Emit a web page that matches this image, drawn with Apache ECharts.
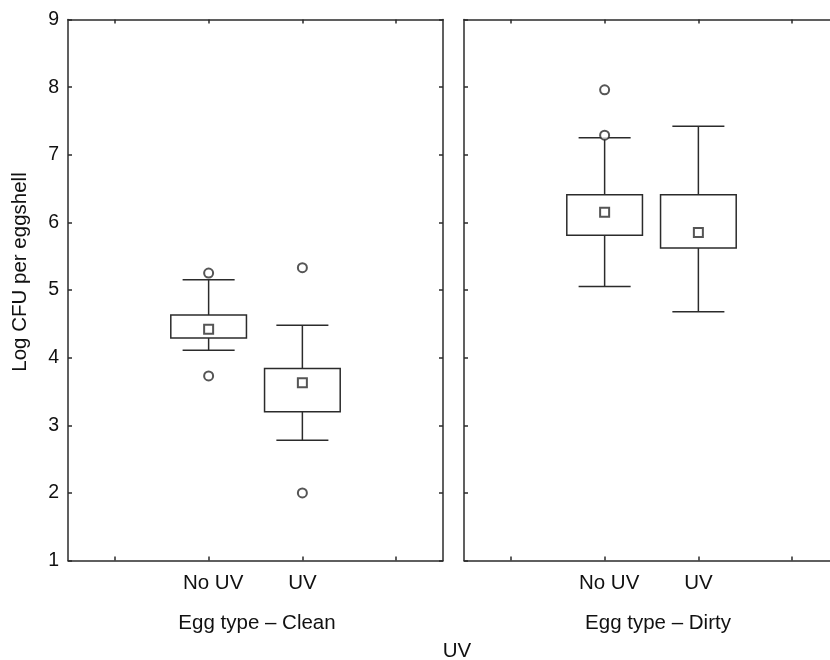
<!DOCTYPE html>
<html>
<head>
<meta charset="utf-8">
<script src="https://cdn.jsdelivr.net/npm/echarts@6/dist/echarts.min.js"></script>
<style>html,body{margin:0;padding:0;background:#fff;}#chart{width:830px;height:660px;}</style>
</head>
<body>
<div id="chart"></div>
<script>
// ---- data ----
var axisCategories = [' ', 'No UV', 'UV', '  '];
var groupNames = ['Egg type \u2013 Clean', 'Egg type \u2013 Dirty'];
var treatments = ['No UV', 'UV'];
var yTicks = [1, 2, 3, 4, 5, 6, 7, 8, 9];
// per group: [No UV, UV]
var whiskerLow  = [[4.11, 2.78], [5.05, 4.68]];
var boxLow      = [[4.29, 3.20], [5.81, 5.62]];
var meanValue   = [[4.42, 3.63], [6.15, 5.85]];
var boxHigh     = [[4.63, 3.84], [6.41, 6.41]];
var whiskerHigh = [[5.15, 4.48], [7.25, 7.42]];
var outlierTreatment = [['No UV', 'No UV', 'UV', 'UV'], ['No UV', 'No UV']];
var outlierValue     = [[5.25, 3.73, 5.33, 2.00], [7.96, 7.29]];

var LINE = '#2b2b2b';
var TEXT = '#111';
var FONT = "'Liberation Sans', Arial, Helvetica, sans-serif";

var grids = [
  {left: 68, top: 19.5, width: 375, height: 541, outerBoundsMode: 'none', containLabel: false},
  {left: 464, top: 19.5, width: 375, height: 541, outerBoundsMode: 'none', containLabel: false}
];
var xAxes = [], yAxes = [], series = [];
for (var g = 0; g < 2; g++) {
  // bottom
  xAxes.push({type: 'category', gridIndex: g, data: axisCategories, boundaryGap: true, position: 'bottom',
    axisLine: {lineStyle: {color: LINE, width: 1.5}},
    axisTick: {show: true, inside: true, length: 4, alignWithLabel: true, interval: 0, lineStyle: {color: LINE, width: 1.5}},
    axisLabel: {interval: 0, color: TEXT, fontFamily: FONT, fontSize: 20.5, margin: 12,
      formatter: function (v) { return v === 'No UV' ? '{a|' + v + '}' : v; },
      rich: {a: {fontFamily: FONT, fontSize: 20.5, color: TEXT, padding: [0, 0, 0, 9]}}}});
  // top
  xAxes.push({type: 'category', gridIndex: g, data: axisCategories, boundaryGap: true, position: 'top',
    axisLine: {lineStyle: {color: LINE, width: 1.5}},
    axisTick: {show: true, inside: true, length: 4, alignWithLabel: true, interval: 0, lineStyle: {color: LINE, width: 1.5}},
    axisLabel: {show: false, interval: 0}});
  // left
  yAxes.push({type: 'value', gridIndex: g, min: yTicks[0], max: yTicks[yTicks.length - 1], interval: 1, position: 'left',
    axisLine: {show: true, lineStyle: {color: LINE, width: 1.5}},
    axisTick: {show: true, inside: true, length: 4, lineStyle: {color: LINE, width: 1.5}},
    splitLine: {show: false},
    axisLabel: {show: g === 0, color: TEXT, fontFamily: FONT, fontSize: 19.5, margin: 9}});
  // right
  yAxes.push({type: 'value', gridIndex: g, min: yTicks[0], max: yTicks[yTicks.length - 1], interval: 1, position: 'right',
    axisLine: {show: true, lineStyle: {color: LINE, width: 1.5}},
    axisTick: {show: true, inside: true, length: 4, lineStyle: {color: LINE, width: 1.5}},
    splitLine: {show: false},
    axisLabel: {show: false}});

  var boxData = [], meanData = [], outData = [];
  for (var i = 0; i < treatments.length; i++) {
    boxData.push([treatments[i], whiskerLow[g][i], boxLow[g][i], boxHigh[g][i], whiskerHigh[g][i]]);
    meanData.push([treatments[i], meanValue[g][i]]);
  }
  for (var k = 0; k < outlierValue[g].length; k++) outData.push([outlierTreatment[g][k], outlierValue[g][k]]);

  series.push({
    type: 'custom', xAxisIndex: 2 * g, yAxisIndex: 2 * g, data: boxData,
    encode: {x: 0, y: [1, 2, 3, 4]},
    renderItem: function (params, api) {
      var xi = api.value(0);
      var pW = api.coord([xi, api.value(1)]);
      var pL = api.coord([xi, api.value(2)]);
      var pH = api.coord([xi, api.value(3)]);
      var pT = api.coord([xi, api.value(4)]);
      var band = api.size([1, 0])[0];
      var bw = band * 0.807, cw = band * 0.555;
      var x = pL[0];
      var st = {stroke: LINE, lineWidth: 1.5, fill: null};
      return {type: 'group', children: [
        {type: 'line', shape: {x1: x, y1: pT[1], x2: x, y2: pH[1]}, style: st},
        {type: 'line', shape: {x1: x, y1: pL[1], x2: x, y2: pW[1]}, style: st},
        {type: 'line', shape: {x1: x - cw / 2, y1: pT[1], x2: x + cw / 2, y2: pT[1]}, style: st},
        {type: 'line', shape: {x1: x - cw / 2, y1: pW[1], x2: x + cw / 2, y2: pW[1]}, style: st},
        {type: 'rect', shape: {x: x - bw / 2, y: pH[1], width: bw, height: pL[1] - pH[1]}, style: {stroke: LINE, lineWidth: 1.5, fill: '#fff'}}
      ]};
    },
    z: 2
  });
  series.push({type: 'scatter', xAxisIndex: 2 * g, yAxisIndex: 2 * g, data: meanData, symbol: 'rect', symbolSize: 9,
    itemStyle: {color: '#fff', borderColor: LINE, borderWidth: 2}, z: 3, silent: true});
  series.push({type: 'scatter', xAxisIndex: 2 * g, yAxisIndex: 2 * g, data: outData, symbol: 'circle', symbolSize: 9,
    itemStyle: {color: '#fff', borderColor: LINE, borderWidth: 2}, z: 3, silent: true});
}

var chart = echarts.init(document.getElementById('chart'), null, {renderer: 'canvas'});
chart.setOption({
  animation: false,
  backgroundColor: '#fff',
  grid: grids, xAxis: xAxes, yAxis: yAxes, series: series,
  graphic: [
    {type: 'text', x: 20, y: 272, rotation: Math.PI / 2, style: {text: 'Log CFU per eggshell', font: '20.5px ' + FONT, fill: TEXT, textAlign: 'center', textVerticalAlign: 'middle'}},
    {type: 'text', x: 257, y: 623, style: {text: groupNames[0], font: '20.5px ' + FONT, fill: TEXT, textAlign: 'center', textVerticalAlign: 'middle'}},
    {type: 'text', x: 658, y: 623, style: {text: groupNames[1], font: '20.5px ' + FONT, fill: TEXT, textAlign: 'center', textVerticalAlign: 'middle'}},
    {type: 'text', x: 457, y: 651, style: {text: 'UV', font: '20.5px ' + FONT, fill: TEXT, textAlign: 'center', textVerticalAlign: 'middle'}}
  ]
});
</script>
</body>
</html>
